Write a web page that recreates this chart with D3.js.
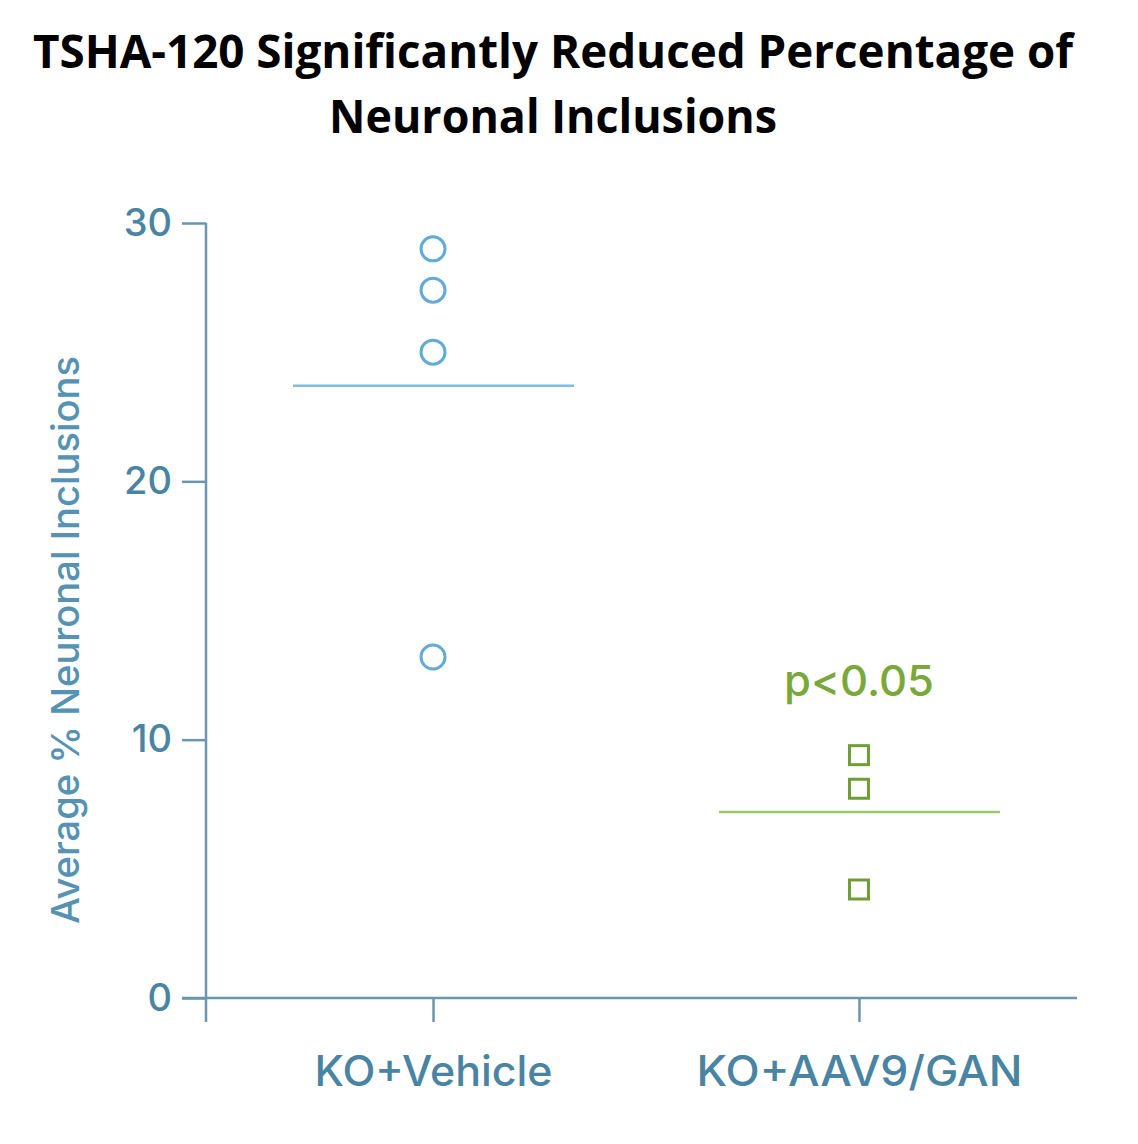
<!DOCTYPE html>
<html>
<head>
<meta charset="utf-8">
<script src="https://cdn.jsdelivr.net/npm/d3@7"></script>
<style>
  body { margin: 0; background: #fff; }
  svg { display: block; }
</style>
</head>
<body>
<div id="chart"></div>
<script>
const categories = ["KO+Vehicle", "KO+AAV9/GAN"];
const categoryWidths = [238, 326];
const vehicleValues = [29.0, 27.4, 25.0, 13.2];
const ganValues = [9.4, 8.1, 4.2];
const means = [23.7, 7.2];
const yTicks = [0, 10, 20, 30];
const pLabel = "p<0.05";

const width = 1138;
const height = 1144;

const svg = d3.select("#chart")
  .append("svg")
  .attr("width", width)
  .attr("height", height);

// title (two lines)
const title = svg.append("g")
  .style("font-family", "'Open Sans', 'Liberation Sans', sans-serif")
  .style("font-weight", "bold")
  .style("font-size", "47px")
  .attr("fill", "#000");
title.append("text")
  .attr("x", 553).attr("y", 68)
  .attr("text-anchor", "middle")
  .attr("textLength", 1040).attr("lengthAdjust", "spacingAndGlyphs")
  .text("TSHA-120 Significantly Reduced Percentage of");
title.append("text")
  .attr("x", 553).attr("y", 133)
  .attr("text-anchor", "middle")
  .attr("textLength", 448).attr("lengthAdjust", "spacingAndGlyphs")
  .text("Neuronal Inclusions");

const y = d3.scaleLinear()
  .domain([0, 30])
  .range([998, 223]);

const x = d3.scalePoint()
  .domain(categories)
  .range([206, 1086])
  .padding(0.533);

const axisColor = "#6b97ae";
const labelFont = "Inter, Lato, 'Open Sans', sans-serif";

// y axis
const yAxis = svg.append("g")
  .attr("transform", "translate(206,0)")
  .call(d3.axisLeft(y).tickValues(yTicks).tickSize(24).tickPadding(10));
yAxis.select(".domain").remove();
yAxis.selectAll(".tick line").attr("stroke", axisColor).attr("stroke-width", 2.5);
yAxis.selectAll(".tick text")
  .attr("fill", "#4a84a3")
  .style("font-family", labelFont)
  .style("font-weight", 500)
  .style("font-size", "38px");
yAxis.append("line")
  .attr("x1", 0).attr("x2", 0)
  .attr("y1", y(30)).attr("y2", y(0) + 24)
  .attr("stroke", axisColor).attr("stroke-width", 2.5);

// x axis
const xAxis = svg.append("g")
  .attr("transform", `translate(0,${y(0)})`)
  .call(d3.axisBottom(x).tickSize(24).tickPadding(34));
xAxis.select(".domain").remove();
xAxis.selectAll(".tick line").attr("stroke", axisColor).attr("stroke-width", 2.5);
xAxis.selectAll(".tick text")
  .attr("fill", "#4a84a3")
  .attr("textLength", (d, i) => categoryWidths[i])
  .attr("lengthAdjust", "spacingAndGlyphs")
  .style("font-family", labelFont)
  .style("font-weight", 500)
  .style("font-size", "42px");
xAxis.append("line")
  .attr("x1", 182).attr("x2", 1077)
  .attr("y1", 0).attr("y2", 0)
  .attr("stroke", axisColor).attr("stroke-width", 2.5);

// y axis title
svg.append("text")
  .attr("transform", "translate(79,640) rotate(-90)")
  .attr("text-anchor", "middle")
  .attr("fill", "#5592b3")
  .attr("textLength", 568).attr("lengthAdjust", "spacingAndGlyphs")
  .style("font-family", labelFont)
  .style("font-weight", 500)
  .style("font-size", "38px")
  .text("Average % Neuronal Inclusions");

// mean lines
const meanColors = ["#7dbde2", "#9dc56c"];
svg.selectAll(".mean")
  .data(means)
  .enter()
  .append("line")
  .attr("class", "mean")
  .attr("x1", (d, i) => x(categories[i]) - 140)
  .attr("x2", (d, i) => x(categories[i]) + 141)
  .attr("y1", d => y(d))
  .attr("y2", d => y(d))
  .attr("stroke", (d, i) => meanColors[i])
  .attr("stroke-width", 2.5);

// vehicle circles
svg.selectAll(".veh")
  .data(vehicleValues)
  .enter()
  .append("circle")
  .attr("class", "veh")
  .attr("cx", x(categories[0]))
  .attr("cy", d => y(d))
  .attr("r", 12)
  .attr("fill", "none")
  .attr("stroke", "#62abd8")
  .attr("stroke-width", 3);

// GAN squares
const sq = 19;
svg.selectAll(".gan")
  .data(ganValues)
  .enter()
  .append("rect")
  .attr("class", "gan")
  .attr("x", x(categories[1]) - sq / 2)
  .attr("y", d => y(d) - sq / 2)
  .attr("width", sq)
  .attr("height", sq)
  .attr("fill", "none")
  .attr("stroke", "#6e9e34")
  .attr("stroke-width", 3);

// significance label
svg.append("text")
  .attr("x", x(categories[1]))
  .attr("y", 696)
  .attr("text-anchor", "middle")
  .attr("fill", "#7aa83a")
  .attr("textLength", 150).attr("lengthAdjust", "spacingAndGlyphs")
  .style("font-family", labelFont)
  .style("font-weight", 500)
  .style("font-size", "43px")
  .text(pLabel);
</script>
</body>
</html>
